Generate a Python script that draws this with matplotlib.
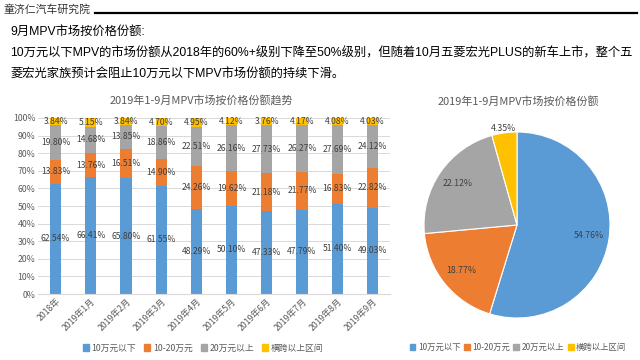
import matplotlib
matplotlib.use("Agg")
import matplotlib.pyplot as plt
from matplotlib.patches import Rectangle
from matplotlib.lines import Line2D
import numpy as np

plt.rcParams['font.family'] = ['Noto Sans CJK SC', 'DejaVu Sans']

categories = ["2018年", "2019年1月", "2019年2月", "2019年3月", "2019年4月",
              "2019年5月", "2019年6月", "2019年7月", "2019年8月", "2019年9月"]
series_names = ["10万元以下", "10-20万元", "20万元以上", "横跨以上区间"]
below10 = [62.54, 66.41, 65.80, 61.55, 48.29, 50.10, 47.33, 47.79, 51.40, 49.03]
r10_20 = [13.83, 13.76, 16.51, 14.90, 24.26, 19.62, 21.18, 21.77, 16.83, 22.82]
above20 = [19.80, 14.68, 13.85, 18.86, 22.51, 26.16, 27.73, 26.27, 27.69, 24.12]
cross = [3.84, 5.15, 3.84, 4.70, 4.95, 4.12, 3.76, 4.17, 4.08, 4.03]
pie_values = [54.76, 18.77, 22.12, 4.35]

colors = ["#5B9BD5", "#ED7D31", "#A5A5A5", "#FFC000"]
txt = "#595959"

W, H = 640, 360
fig = plt.figure(figsize=(6.4, 3.6), dpi=100)
fig.patch.set_facecolor("white")

def fx(x): return x / W
def fy(y): return 1 - y / H

body_font = ['Liberation Sans', 'Noto Sans CJK SC', 'DejaVu Sans']

# header
fig.text(fx(4), fy(9), "童济仁汽车研究院", fontsize=7.8, style='italic', color="#333333",
         va='center', ha='left')
fig.add_artist(Line2D([fx(95), fx(637)], [fy(13), fy(13)], color='black', lw=1.6))

fig.text(fx(10), fy(32), "9月MPV市场按价格份额:", fontsize=8.85, color='black', va='center',
         family=body_font)
fig.text(fx(10), fy(53), "10万元以下MPV的市场份额从2018年的60%+级别下降至50%级别，但随着10月五菱宏光PLUS的新车上市，整个五",
         fontsize=8.85, color='black', va='center', family=body_font)
fig.text(fx(10), fy(75), "菱宏光家族预计会阻止10万元以下MPV市场份额的持续下滑。",
         fontsize=8.85, color='black', va='center', family=body_font)

# bar chart
ax = fig.add_axes([fx(38), fy(294), fx(390 - 38), (294 - 118) / H])
x = np.arange(len(categories))
series = [below10, r10_20, above20, cross]
bottom = np.zeros(len(categories))
for vals, c in zip(series, colors):
    v = np.array(vals)
    ax.bar(x, v, 0.32, bottom=bottom, color=c, zorder=2)
    for xi, b, vi in zip(x, bottom, v):
        ax.text(xi, b + vi / 2, f"{vi:.2f}%", ha='center', va='center',
                fontsize=6.2, color="#404040", zorder=3)
    bottom += v
ax.set_xlim(-0.5, len(categories) - 0.5)
ax.set_ylim(0, 100)
ax.set_yticks(np.arange(0, 101, 10))
ax.set_yticklabels([f"{t}%" for t in range(0, 101, 10)], fontsize=6.3, color=txt)
ax.set_xticks(x)
ax.set_xticklabels(categories, rotation=45, ha='right', rotation_mode='anchor',
                   fontsize=6.3, color=txt)
ax.tick_params(length=0, pad=2)
ax.grid(axis='y', color="#D9D9D9", lw=0.7, zorder=0)
for s in ['top', 'right', 'left']:
    ax.spines[s].set_visible(False)
ax.spines['bottom'].set_color("#D9D9D9")
fig.text(fx(201), fy(100), "2019年1-9月MPV市场按价格份额趋势", fontsize=7.9, color=txt,
         ha='center', va='center')

handles = [Rectangle((0, 0), 1, 1, color=c) for c in colors]
fig.legend(handles, series_names, loc='center', bbox_to_anchor=(fx(203), fy(348)), ncol=4,
           frameon=False, fontsize=6.3, labelcolor=txt, handlelength=0.7, handleheight=0.7,
           handletextpad=0.3, columnspacing=0.9)

# pie
r = 93
pd_ = 0.78
axp = fig.add_axes([fx(517 - r), fy(225 + r), fx(2 * r), 2 * r / H])
wedges, texts, autotexts = axp.pie(pie_values, colors=colors, startangle=90, counterclock=False,
                                   autopct=lambda p: f"{p:.2f}%", pctdistance=pd_,
                                   wedgeprops=dict(edgecolor='white', linewidth=0.8),
                                   textprops=dict(fontsize=6.3, color="#404040"))
px, py = autotexts[3].get_position()
autotexts[3].set_position((px / pd_ * 1.05, py / pd_ * 1.05))
axp.set_xlim(-1, 1)
axp.set_ylim(-1, 1)
axp.set_aspect('equal')
fig.text(fx(518), fy(102), "2019年1-9月MPV市场按价格份额", fontsize=7.9, color=txt,
         ha='center', va='center')
fig.legend(handles, series_names, loc='center', bbox_to_anchor=(fx(518), fy(347)), ncol=4,
           frameon=False, fontsize=6.0, labelcolor=txt, handlelength=0.7, handleheight=0.7,
           handletextpad=0.3, columnspacing=0.4)

fig.savefig("out.png", dpi=100)
